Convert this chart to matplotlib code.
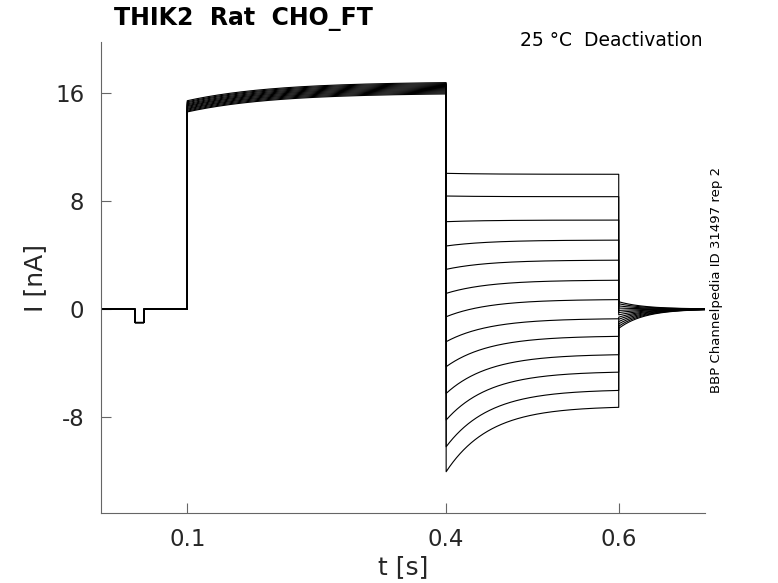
import numpy as np
import matplotlib
matplotlib.use("Agg")
import matplotlib.pyplot as plt

# ---- data ----
# activation step (0.1 - 0.4 s): value right after the step and at the end
act_start = [15.43, 15.35, 15.28, 15.2, 15.13, 15.06, 15.0, 14.93, 14.86, 14.8, 14.73, 14.66, 14.6]
act_end   = [16.84, 16.77, 16.7, 16.63, 16.56, 16.49, 16.42, 16.35, 16.28, 16.21, 16.14, 16.07, 16.0]
# tail step (0.4 - 0.6 s): value right after the step and at 0.6 s
tail_start = [10.05, 8.37, 6.47, 4.67, 2.94, 1.16, -0.57, -2.42, -4.27, -6.25, -8.22, -10.2, -12.05]
tail_end   = [9.98, 8.32, 6.59, 5.11, 3.63, 2.15, 0.72, -0.69, -1.98, -3.33, -4.61, -5.95, -7.19]
# return to holding (0.6 - 0.7 s): value right after the step
post_start = [0.54, 0.39, 0.23, 0.07, -0.1, -0.26, -0.43, -0.6, -0.76, -0.93, -1.1, -1.27, -1.43]
# small test pulse before activation
dip_t = [0.0394, 0.050]
dip_val = -1.0
tau_act, tau_tail, tau_post = 0.10, 0.05, 0.03

xticks = [0.1, 0.4, 0.6]
yticks = [-8, 0, 8, 16]

fig = plt.figure(figsize=(7.78, 5.83), dpi=100)
ax = fig.add_axes([0.1298, 0.120, 0.7764, 0.808])

t0 = np.linspace(0.0, 0.1, 401)
t1 = np.linspace(0.1, 0.4, 601)
t2 = np.linspace(0.4, 0.6, 401)
t3 = np.linspace(0.6, 0.7, 201)

for a0, a1, s0, s1, p0 in zip(act_start, act_end, tail_start, tail_end, post_start):
    y0 = np.where((t0 >= dip_t[0]) & (t0 < dip_t[1]), dip_val, 0.0)
    y1 = a1 + (a0 - a1) * np.exp(-(t1 - 0.1) / tau_act)
    y2 = s1 + (s0 - s1) * np.exp(-(t2 - 0.4) / tau_tail)
    y3 = p0 * np.exp(-(t3 - 0.6) / tau_post)
    t = np.concatenate([t0, t1, t2, t3])
    y = np.concatenate([y0, y1, y2, y3])
    ax.plot(t, y, color="black", lw=0.8)

ax.set_xlim(0.0, 0.7)
ax.set_ylim(-15.11, 19.78)
ax.set_xticks(xticks)
ax.set_xticklabels(["0.1", "0.4", "0.6"])
ax.set_yticks(yticks)
ax.set_yticklabels(["-8", "0", "8", "16"])
for s in ["top", "right"]:
    ax.spines[s].set_visible(False)
for s in ["left", "bottom"]:
    ax.spines[s].set_color("#666666")
    ax.spines[s].set_linewidth(0.8)
ax.tick_params(direction="in", length=7, width=0.8, color="#666666",
               labelsize=16.5, labelcolor="#262626")
ax.tick_params(axis="y", pad=12)
ax.tick_params(axis="x", pad=11)

ax.set_xlabel("t [s]", fontsize=18, color="#262626", labelpad=3)
ax.set_ylabel("I [nA]", fontsize=18, color="#262626", labelpad=6)

fig.text(0.147, 0.967, "THIK2  Rat  CHO_FT", fontsize=17, fontweight="bold",
         ha="left", va="center", color="black")
fig.text(0.903, 0.930, "25 \u00b0C  Deactivation", fontsize=13.5,
         ha="right", va="center", color="black")
fig.text(0.921, 0.52, "BBP Channelpedia ID 31497 rep 2", fontsize=9.5,
         rotation=90, ha="center", va="center", color="black")

fig.savefig("out.png", dpi=100)
